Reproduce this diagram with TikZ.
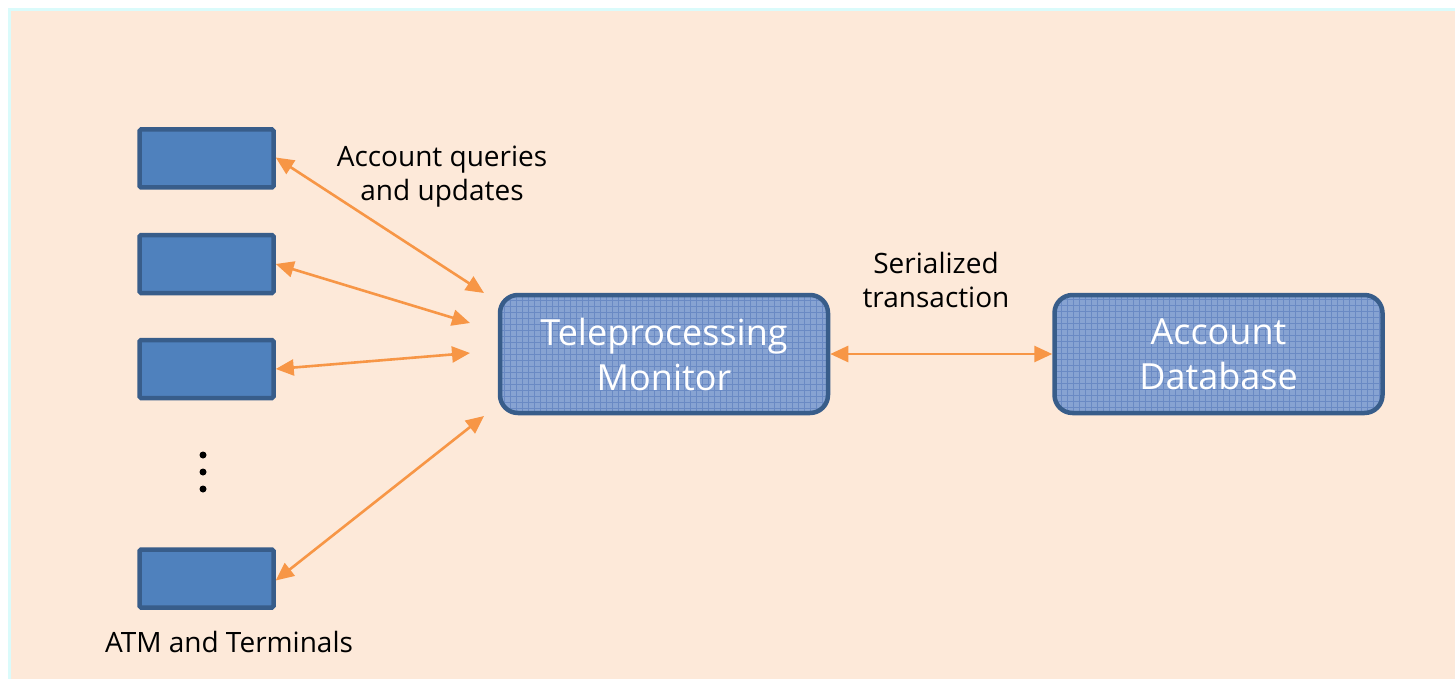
\documentclass[tikz,border=0pt]{standalone}
\usepackage{fontspec}
\setmainfont{Open Sans}
\usetikzlibrary{arrows.meta}
\definecolor{peach}{HTML}{FDE9D9}
\definecolor{cyanedge}{HTML}{DAFBFB}
\definecolor{termfill}{HTML}{4F81BD}
\definecolor{termedge}{HTML}{385D8A}
\definecolor{tpfill}{HTML}{87A3D2}
\definecolor{tpgrid}{HTML}{6A8AC4}
\definecolor{arrowc}{HTML}{F79646}
\tikzset{
  term/.style={draw=termedge, fill=termfill, line width=4.5pt, minimum width=134pt, minimum height=58pt, inner sep=0pt, rounded corners=1.5pt},
  bigbox/.style={draw=termedge, fill=tpfill, line width=4.5pt, minimum width=328pt, minimum height=118pt, rounded corners=18pt, align=center, text=white, font=\fontsize{36}{45}\selectfont,
    path picture={\draw[tpgrid, line width=0.7pt] (path picture bounding box.south west) grid[step=6pt] (path picture bounding box.north east);}},
  lbl/.style={align=center, font=\fontsize{28}{34}\selectfont, text=black, inner sep=0pt},
  link/.style={draw=arrowc, line width=2.6pt, {Triangle[length=18pt,width=16pt]}-{Triangle[length=18pt,width=16pt]}},
  dot/.style={circle, fill=black, inner sep=0pt, minimum size=7pt}
}
\begin{document}
\begin{tikzpicture}[x=1pt,y=-1pt]
\useasboundingbox (0,0) rectangle (1455,679);
\fill[white] (0,0) rectangle (1455,679);
\fill[cyanedge] (8,8) rectangle (1455,679);
\fill[peach] (11,11) rectangle (1455,679);
% terminals
\node[term] (t1) at (206.5,158.5) {};
\node[term] (t2) at (206.5,264) {};
\node[term] (t3) at (206.5,369) {};
\node[term] (t4) at (206.5,578.5) {};
\node[dot] (d1) at (203,455) {};
\node[dot] (d2) at (203,472) {};
\node[dot] (d3) at (203,489) {};
% main boxes
\node[bigbox] (tp) at (664,354) {Teleprocessing\\Monitor};
\node[bigbox] (db) at (1218.5,354) {Account\\Database};
% free ends near the monitor
\coordinate (e1) at (484,293);
\coordinate (e2) at (470,323);
\coordinate (e3) at (470,353);
\coordinate (e4) at (484,416);
\draw[link] ([yshift=1pt]t1.east) -- (e1);
\draw[link] ([yshift=0pt]t2.east) -- (e2);
\draw[link] ([yshift=0pt]t3.east) -- (e3);
\draw[link] ([yshift=-2pt]t4.east) -- (e4);
\draw[link] (tp.east) -- (db.west);
% labels
\node[lbl] (l1) at (442,177) {Account queries\\and updates};
\node[lbl] (l2) at (936,280) {Serialized\\transaction};
\node[lbl] (l3) at (229,642) {ATM and Terminals};
\end{tikzpicture}
\end{document}
